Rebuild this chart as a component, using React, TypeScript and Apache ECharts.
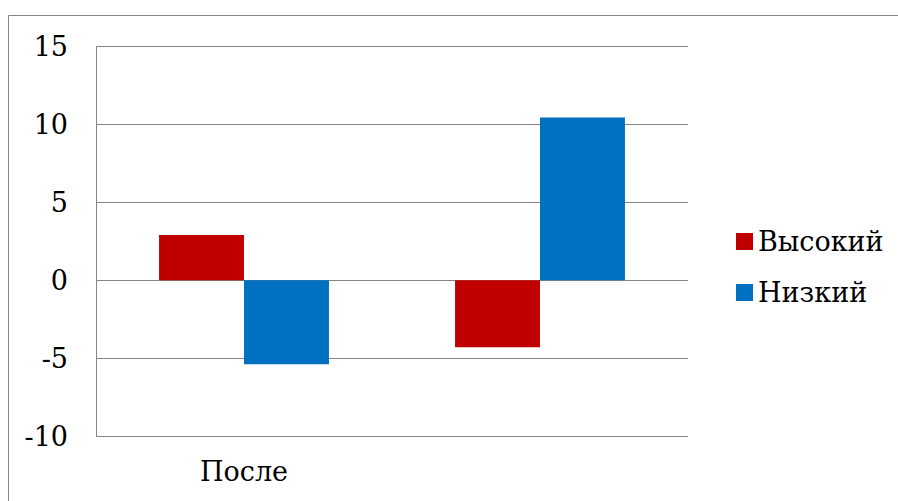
import React, { useEffect, useRef } from "react";
import * as echarts from "echarts";

const categories = ["После", "Восстановление"];
const seriesNames = ["Высокий", "Низкий"];
const highValues = [2.9, -4.3];
const lowValues = [-5.4, 10.45];
const colors = ["#C00000", "#0070C0"];

export default function App() {
  const ref = useRef<HTMLDivElement>(null);
  useEffect(() => {
    document.body.style.margin = "0";
    const chart = echarts.init(ref.current!, null, { renderer: "svg" });
    const font = "DejaVu Serif";
    const fs = 27;
    chart.setOption({
      animation: false,
      backgroundColor: "#ffffff",
      graphic: [
        {
          type: "rect",
          shape: { x: 8.5, y: 15.5, width: 1000, height: 1000 },
          style: { fill: "none", stroke: "#868686", lineWidth: 1 },
          silent: true,
        },
      ],
      legend: {
        orient: "vertical",
        left: 731,
        top: 223,
        itemWidth: 17,
        itemHeight: 17,
        itemGap: 24,
        icon: "rect",
        textStyle: { fontFamily: font, fontSize: fs, color: "#000" },
        data: seriesNames,
      },
      grid: { left: 96, top: 46.5, right: 210, bottom: 65 },
      xAxis: {
        type: "category",
        data: categories,
        axisLine: { show: false },
        axisTick: { show: false },
        axisLabel: { fontFamily: font, fontSize: fs, color: "#000", margin: 22 },
      },
      yAxis: {
        type: "value",
        min: -10,
        max: 15,
        interval: 5,
        axisLine: { show: true, lineStyle: { color: "#868686", width: 1 } },
        axisTick: { show: false },
        splitLine: { show: true, lineStyle: { color: "#868686", width: 1 } },
        axisLabel: { fontFamily: font, fontSize: fs, color: "#000", margin: 28 },
      },
      series: [
        {
          name: seriesNames[0],
          type: "bar",
          data: highValues,
          itemStyle: { color: colors[0] },
          barGap: "0%",
          barCategoryGap: "42.6%",
        },
        {
          name: seriesNames[1],
          type: "bar",
          data: lowValues,
          itemStyle: { color: colors[1] },
          barGap: "0%",
          barCategoryGap: "42.6%",
        },
      ],
    });
    return () => chart.dispose();
  }, []);
  return (
    <div
      ref={ref}
      style={{ position: "fixed", left: 0, top: 0, width: 898, height: 501 }}
    />
  );
}
